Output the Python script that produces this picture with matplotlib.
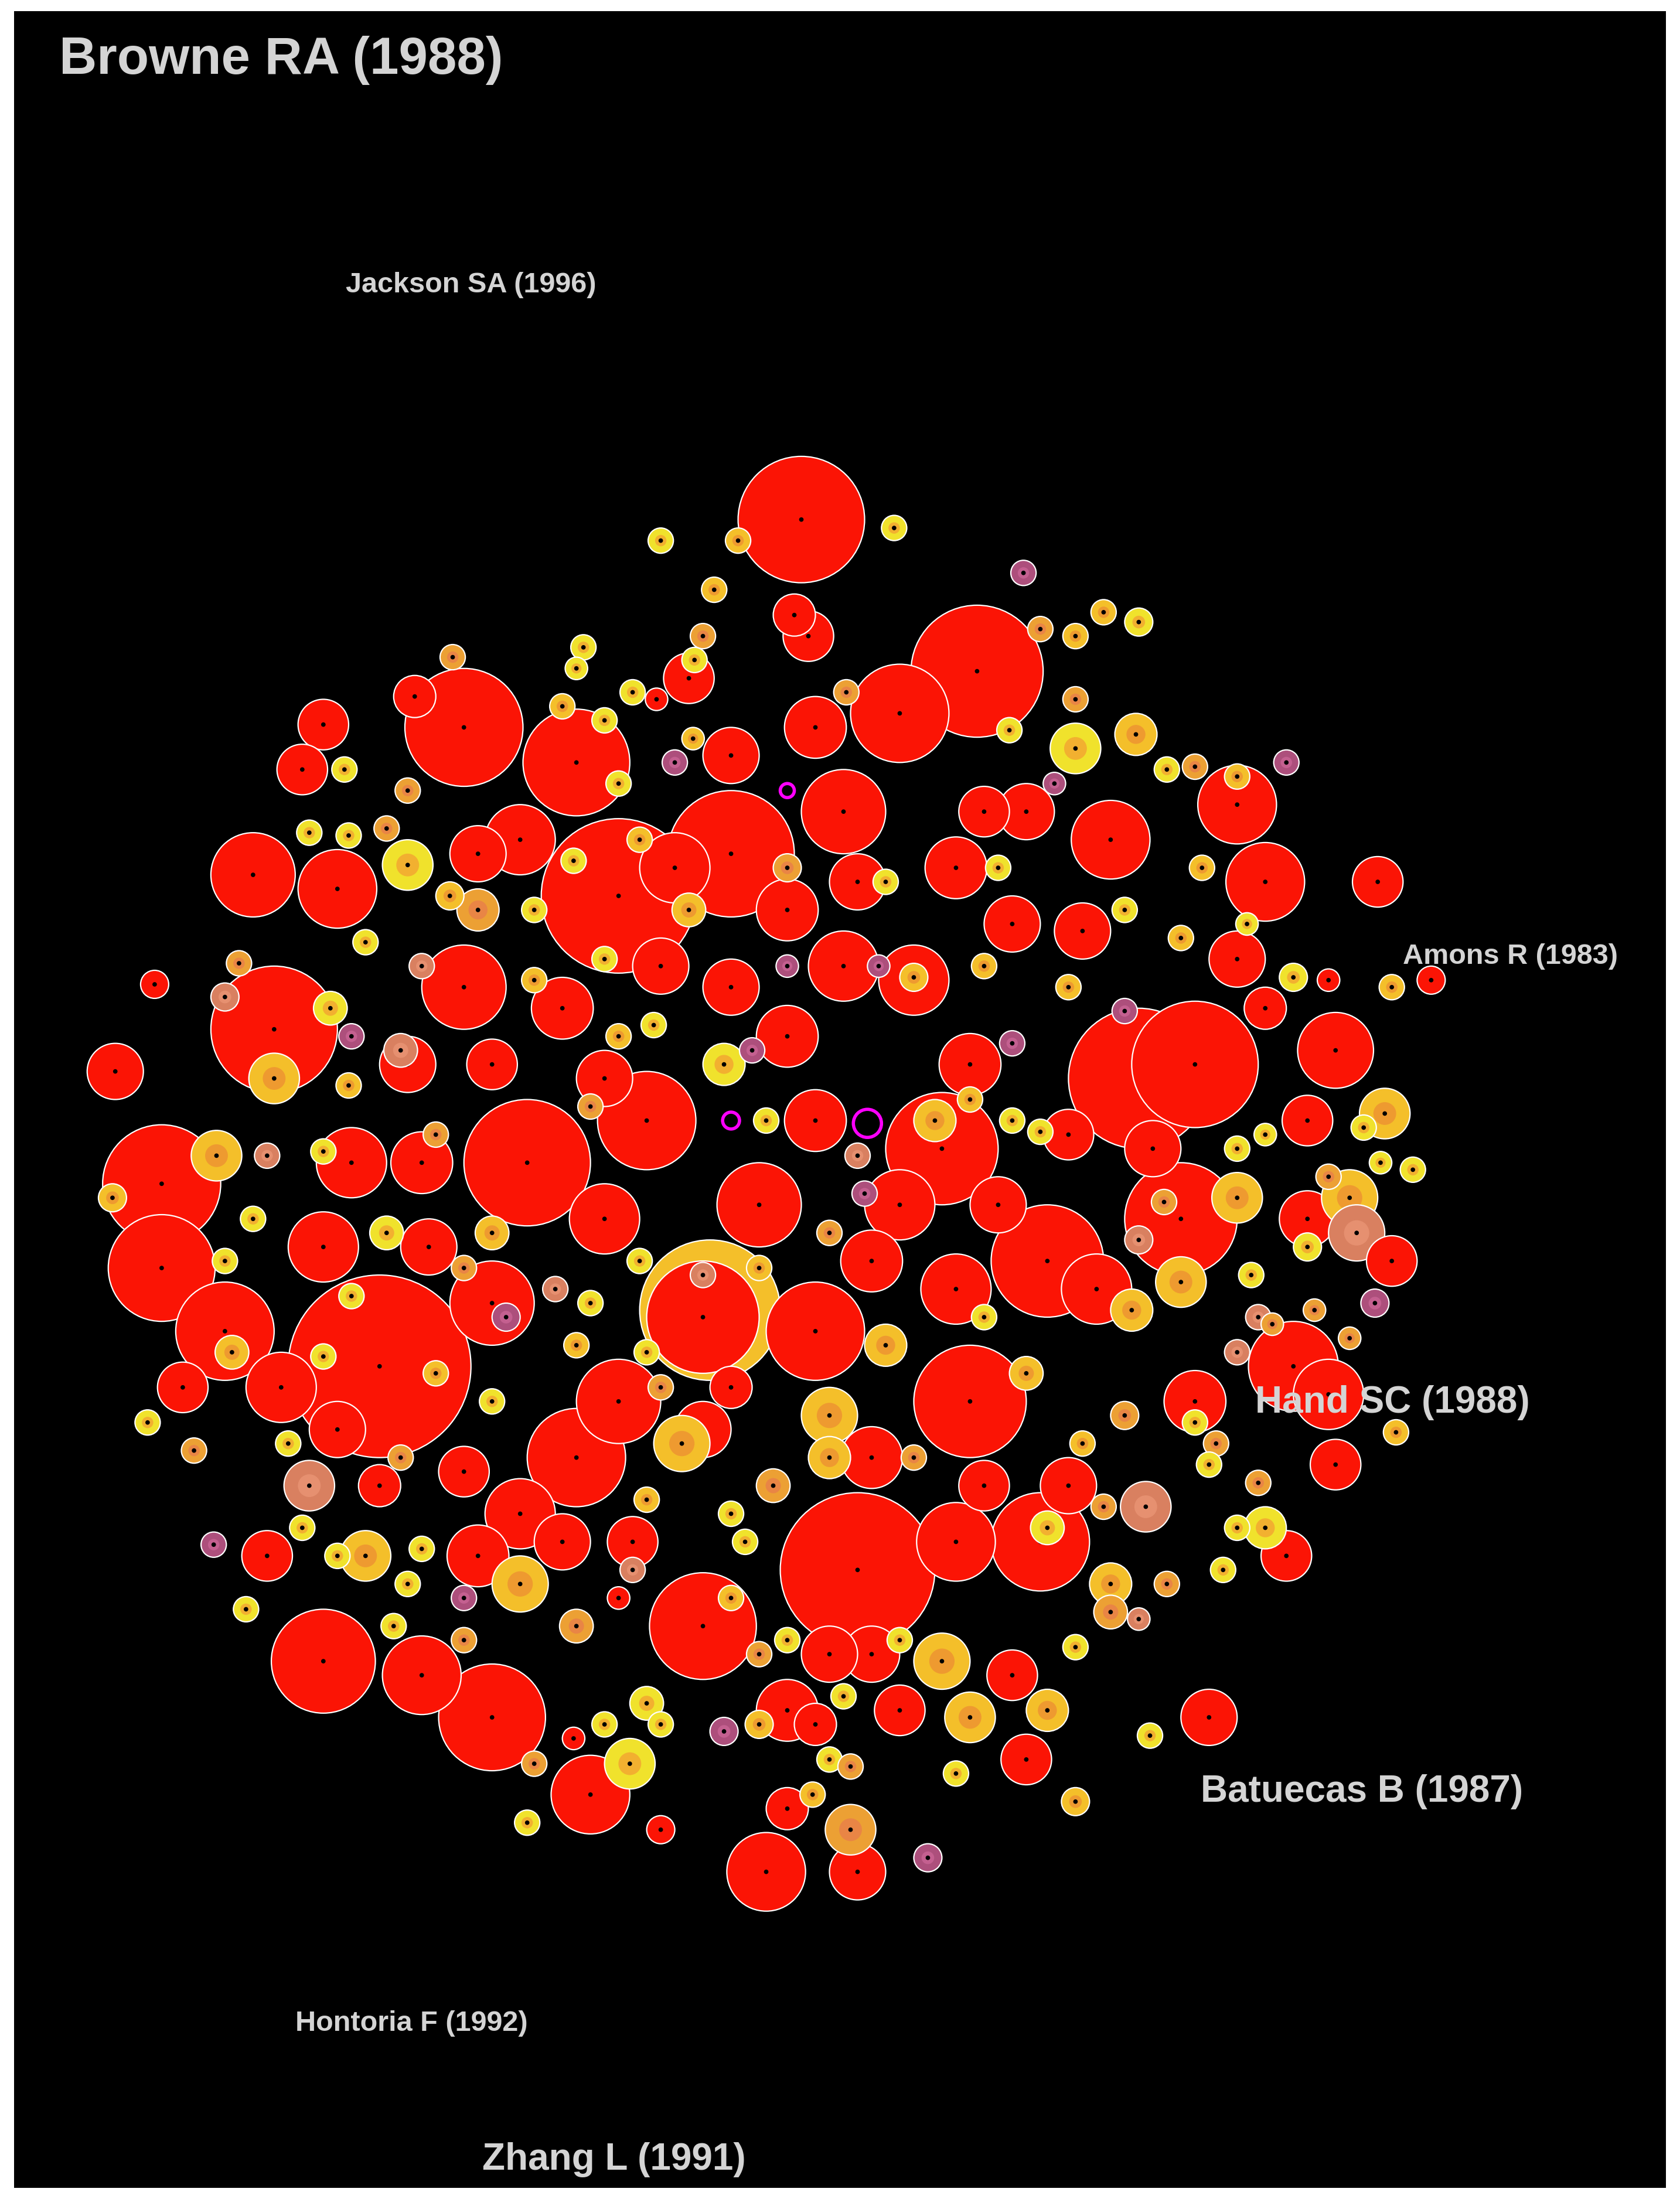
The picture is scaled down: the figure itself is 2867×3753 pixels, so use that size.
import matplotlib
matplotlib.use("Agg")
import matplotlib.pyplot as plt
from matplotlib.patches import Circle

# positions in screen units (approx 1195 x 1568)
COLORS = {'R': '#fb1405', 'Y': '#f0e22c', 'G': '#f4bf2a', 'O': '#eca034',
          'S': '#d98060', 'P': '#ad4f7c'}
INNER = {'R': '#fb1405', 'Y': '#f2b030', 'G': '#ee9a30', 'O': '#e98545',
         'S': '#e69070', 'P': '#c46090'}

big = [(570,372,45),(695,480,47),(330,520,42),(410,545,38),(440,640,55),(520,610,45),
       (195,735,45),(375,830,45),(115,845,42),(115,905,38),(270,975,65),(500,940,40),
       (810,770,50),(850,760,45),(610,1120,55),(500,1160,38),(230,1185,37),(350,1225,38),
       (545,1335,28),(745,900,40),(690,1000,40),(580,950,35),(640,510,35),(790,600,28),
       (900,630,28),(880,575,28),(950,750,27),(240,635,28),(180,625,30),(160,950,35),
       (840,870,40),(920,975,32),(600,580,30),(670,820,40),(460,800,35),(410,1040,35),
       (740,1100,35),(440,1000,30),(540,860,30)]
mid = [(230,518,18),(215,550,18),(295,498,15),(980,630,18),(880,685,20),(82,765,20),
       (110,703,10),(300,1195,28),(420,1280,28),(610,1335,20),(860,1225,20),(730,1255,18),
       (850,1000,22),(950,1045,18),(915,1110,18),(190,1110,18),(130,990,18),(730,580,20),
       (770,665,20),(650,700,25),(580,520,22),(565,440,15),(575,455,18),(490,485,18),
       (720,660,20),(560,740,22),(600,690,25),(330,705,30),(290,760,20),(470,1305,10),
       (720,1195,18),(930,870,20),(990,900,18),(1018,700,10),(945,700,8),(640,1220,18),
       (560,1220,22),(680,1100,28),(760,1060,20),(620,1040,22),(500,1020,20),(370,1080,25),
       (340,1110,22),(270,1060,15),(340,610,20),(400,720,22),(470,690,20),(520,705,20),
       (690,760,22),(640,860,25),(580,800,22),(710,860,20),(780,920,25),(350,930,30),
       (230,890,25),(305,890,20),(200,990,25),
       (370,600,25),(520,540,20),(610,630,20),(560,650,22),(680,620,22),(700,580,18),
       (430,870,25),(300,830,22),(250,830,25),(620,900,22),(680,920,25),(400,1100,20),
       (450,1100,18),(580,1230,15),(620,1180,20),(560,1290,15),(330,1050,18),(240,1020,20),
       (700,1060,18),(820,820,20),(900,720,15),(930,800,18),(760,810,18),(520,990,15),
       (350,760,18),(430,770,20),(480,620,25),(590,1180,20),(945,995,25)]
small = [(470,387,'Y',9),(525,387,'G',9),(636,378,'Y',9),(728,410,'P',9),(508,422,'G',9),
 (785,438,'G',9),(810,445,'Y',10),(740,450,'O',9),(765,455,'G',9),(500,455,'O',9),
 (415,463,'Y',9),(410,478,'Y',8),(322,470,'O',9),(494,472,'Y',9),(450,495,'Y',9),
 (467,500,'R',8),(602,495,'O',9),(765,500,'O',9),(808,525,'G',15),(765,535,'Y',18),
 (718,522,'Y',9),(750,560,'P',8),(480,545,'P',9),(493,528,'G',8),(830,550,'Y',9),
 (850,548,'O',9),(880,555,'G',9),(915,545,'P',9),(245,550,'Y',9),(290,565,'O',9),
 (220,595,'Y',9),(248,597,'Y',9),(275,592,'O',9),(290,618,'Y',18),(320,640,'G',10),
 (340,650,'O',15),(408,615,'Y',9),(455,600,'G',9),(630,630,'Y',9),(855,620,'G',9),
 (800,650,'Y',9),(840,670,'G',9),(887,660,'Y',8),(920,698,'Y',10),(990,705,'G',9),
 (260,673,'Y',9),(300,690,'S',9),(170,688,'O',9),(160,712,'S',10),(235,720,'Y',12),
 (250,740,'P',9),(195,770,'G',18),(248,775,'G',9),(154,825,'G',18),(80,855,'G',10),
 (190,825,'S',9),(230,822,'Y',9),(180,870,'Y',9),(160,900,'Y',9),(285,750,'S',12),
 (430,685,'Y',9),(440,740,'G',9),(465,732,'Y',9),(515,760,'Y',15),(535,750,'P',9),
 (560,690,'P',8),(625,690,'P',8),(650,698,'G',10),(720,745,'P',9),(700,690,'G',9),
 (760,705,'G',9),(800,722,'P',9),(610,825,'S',9),(615,852,'P',9),
 (665,800,'G',15),(690,785,'G',9),(720,800,'Y',9),(740,808,'Y',9),(880,820,'Y',9),
 (900,810,'Y',8),(970,805,'Y',9),(985,795,'G',18),(1005,835,'Y',9),(982,830,'Y',8),
 (945,840,'O',9),(960,855,'G',20),(965,880,'S',20),(930,890,'Y',10),(880,855,'G',18),
 (828,858,'O',9),(810,885,'S',10),(840,915,'G',18),(805,935,'G',15),(890,910,'Y',9),
 (895,940,'S',9),(905,945,'O',8),(978,930,'P',10),(960,955,'O',8),(935,935,'O',8),
 (993,1022,'G',9),(850,1015,'Y',9),(865,1030,'O',9),(895,1058,'O',9),
 (880,1090,'Y',9),(900,1090,'Y',15),(815,1075,'S',18),(785,1075,'O',9),(800,1010,'O',10),
 (770,1030,'G',9),(745,1090,'Y',12),(790,1130,'G',15),(790,1150,'O',12),(830,1130,'O',9),
 (870,1120,'Y',9),(810,1155,'S',8),(765,1175,'Y',9),(745,1220,'G',15),(690,1225,'G',18),
 (680,1265,'Y',9),(765,1285,'G',10),(818,1238,'Y',9),(660,1325,'P',10),(605,1305,'O',18),
 (578,1280,'G',9),(590,1255,'Y',9),(605,1260,'O',9),(540,1230,'G',10),(515,1235,'P',10),
 (448,1258,'Y',18),(470,1230,'Y',9),(430,1230,'Y',9),(380,1258,'O',9),(375,1300,'Y',9),
 (408,1240,'R',8),(460,1215,'Y',12),(410,1160,'O',12),(440,1140,'R',8),(450,1120,'S',9),
 (370,1130,'G',20),(330,1140,'P',9),(290,1130,'Y',9),(260,1110,'G',18),(240,1110,'Y',9),
 (215,1090,'Y',9),(220,1060,'S',18),(152,1102,'P',9),(175,1148,'Y',9),(105,1015,'Y',9),
 (138,1035,'O',9),(165,965,'G',12),(230,968,'Y',9),(285,1040,'O',9),(300,1105,'Y',9),
 (350,1000,'Y',9),(360,940,'P',10),(395,920,'S',9),(410,960,'G',9),(460,965,'Y',9),
 (470,990,'O',9),(460,1070,'G',9),(485,1030,'G',20),(520,1080,'Y',9),(530,1100,'Y',9),
 (590,1010,'G',20),(590,1040,'G',15),(550,1060,'O',12),(540,1180,'O',9),(560,1170,'Y',9),
 (650,1040,'O',9),(670,1185,'G',20),(640,1170,'Y',9),(630,960,'G',15),(500,910,'S',9),
 (540,905,'G',9),(455,900,'Y',9),(420,930,'Y',9),(330,905,'O',9),(350,880,'G',12),
 (275,880,'Y',12),(250,925,'Y',9),(310,810,'O',9),(440,560,'Y',9),(430,515,'Y',9),
 (400,505,'G',9),(880,965,'S',9),(860,1045,'Y',9),
 (490,650,'G',12),(560,620,'O',10),(710,620,'Y',9),(380,650,'Y',9),(380,700,'G',9),
 (420,790,'O',9),(545,800,'Y',9),(590,880,'O',9),(700,940,'Y',9),(730,980,'G',12),
 (520,1140,'G',9),(600,1210,'Y',9),(330,1170,'O',9),(280,1160,'Y',9),(205,1030,'Y',9),
 (310,980,'G',9)]
gold_back = [(505,935,50)]
rings = [(617,802,10),(520,800,6),(560,565,5)]

labels = [("Browne RA (1988)", 42, 45, 64), ("Jackson SA (1996)", 246, 205, 35),
          ("Amons R (1983)", 998, 683, 35), ("Hand SC (1988)", 893, 1001, 46),
          ("Batuecas B (1987)", 854, 1278, 46), ("Hontoria F (1992)", 210, 1443, 35),
          ("Zhang L (1991)", 343, 1540, 46)]

fig = plt.figure(figsize=(28.67, 37.53), dpi=100, facecolor='white')
ax = fig.add_axes([10/1195, 8/1568, 1175/1195, 1552/1568])
ax.set_facecolor('black')
ax.set_xlim(10, 1185)
ax.set_ylim(1560, 10)
ax.set_xticks([]); ax.set_yticks([])
for s in ax.spines.values():
    s.set_visible(False)

def bubble(x, y, r, c, z):
    ax.add_patch(Circle((x, y), r, facecolor=COLORS[c], edgecolor='white', lw=1.6, zorder=z))
    if c != 'R':
        ax.add_patch(Circle((x, y), r * 0.45, facecolor=INNER[c], edgecolor='none', zorder=z + 0.01))
    ax.add_patch(Circle((x, y), 1.6, facecolor='black', edgecolor='none', zorder=z + 0.02))

for x, y, r in gold_back:
    bubble(x, y, r, 'G', 1)
items = [(x, y, r, 'R') for x, y, r in big] + [(x, y, r, 'R') for x, y, r in mid] \
        + [(x, y, r, c) for x, y, c, r in small]
items.sort(key=lambda t: -t[2])
for i, (x, y, r, c) in enumerate(items):
    bubble(x, y, r, c, 2 + i * 0.05)
for x, y, r in rings:
    ax.add_patch(Circle((x, y), r, facecolor='none', edgecolor='#ff00ff', lw=4, zorder=100))

for txt, x, y, fs in labels:
    ax.text(x, y, txt, color='#d4d4d4', fontsize=fs, fontweight='bold',
            ha='left', va='center', zorder=200, family=['Liberation Sans', 'DejaVu Sans'])

fig.savefig('out.png', dpi=100, facecolor='white')
